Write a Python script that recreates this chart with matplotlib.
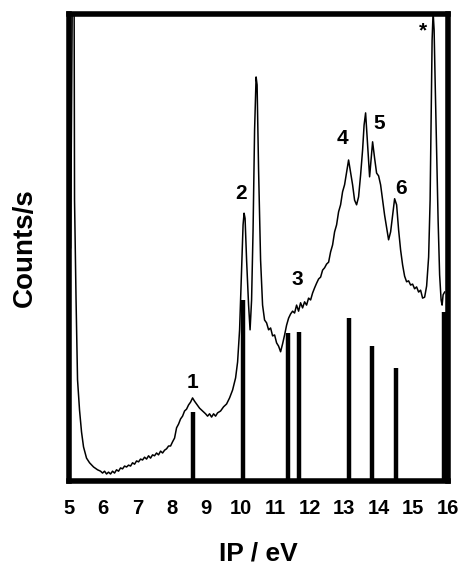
import matplotlib
matplotlib.use("Agg")
import matplotlib.pyplot as plt

plt.rcParams['font.family'] = ['Liberation Sans', 'DejaVu Sans']

# Spectrum (IP in eV, counts in arbitrary units, 0-100 = full axis height)
ip_ev = [5.06, 5.11, 5.14, 5.16, 5.174, 5.218, 5.261, 5.319, 5.377, 5.435, 5.522, 5.61, 5.726, 5.842,
         5.929, 5.987, 6.045, 6.103, 6.161, 6.219, 6.277, 6.335, 6.393, 6.451, 6.509, 6.567, 6.626,
         6.684, 6.742, 6.80, 6.858, 6.916, 6.974, 7.032, 7.09, 7.148, 7.206, 7.264, 7.322, 7.38,
         7.438, 7.496, 7.554, 7.612, 7.671, 7.729, 7.787, 7.845, 7.903, 7.961, 8.019, 8.077, 8.135,
         8.193, 8.251, 8.309, 8.367, 8.425, 8.483, 8.541, 8.599, 8.657, 8.716, 8.803, 8.89, 8.977,
         9.035, 9.093, 9.151, 9.209, 9.267, 9.325, 9.412, 9.499, 9.586, 9.673, 9.761, 9.848, 9.906,
         9.964, 10.022, 10.065, 10.094, 10.123, 10.167, 10.225, 10.268, 10.312, 10.355, 10.399,
         10.443, 10.472, 10.515, 10.573, 10.631, 10.689, 10.747, 10.806, 10.864, 10.922, 10.98,
         11.038, 11.096, 11.154, 11.212, 11.27, 11.328, 11.386, 11.444, 11.502, 11.56, 11.618,
         11.676, 11.734, 11.792, 11.85, 11.908, 11.966, 12.025, 12.083, 12.141, 12.199, 12.257,
         12.315, 12.373, 12.431, 12.489, 12.547, 12.605, 12.663, 12.721, 12.779, 12.837, 12.895,
         12.953, 13.011, 13.069, 13.127, 13.185, 13.243, 13.301, 13.359, 13.417, 13.476, 13.534,
         13.577, 13.621, 13.679, 13.737, 13.78, 13.824, 13.882, 13.94, 13.998, 14.056, 14.114,
         14.172, 14.23, 14.288, 14.347, 14.405, 14.463, 14.521, 14.579, 14.637, 14.695, 14.753,
         14.811, 14.869, 14.927, 14.985, 15.043, 15.101, 15.159, 15.217, 15.275, 15.334, 15.392,
         15.45, 15.493, 15.522, 15.551, 15.58, 15.609, 15.638, 15.682, 15.725, 15.769, 15.812,
         15.841, 15.87, 15.914]
counts = [50.0, 105.0, 130.0, 110.0, 60.2, 38.8, 21.7, 15.2, 10.5, 7.3, 4.9, 3.9, 3.0, 2.4,
          2.1, 1.7, 2.1, 1.5, 1.9, 1.5, 2.1, 1.7, 2.4, 2.1, 2.8, 2.6, 3.2,
          3.0, 3.4, 3.2, 3.9, 3.6, 4.3, 4.1, 4.7, 4.5, 5.1, 4.7, 5.4, 4.9,
          5.6, 5.4, 6.0, 5.6, 6.4, 6.0, 6.6, 6.9, 7.5, 7.5, 8.4, 9.2, 11.4,
          12.2, 13.3, 13.9, 15.0, 15.4, 16.3, 16.9, 17.8, 17.1, 16.5, 15.6, 15.0, 14.4,
          13.9, 14.4, 13.7, 14.4, 13.9, 14.6, 15.0, 15.9, 16.5, 17.8, 19.5, 22.1, 25.5,
          32.4, 45.2, 54.9, 57.4, 56.3, 47.4, 37.7, 32.4, 38.8, 53.8, 75.2,
          86.6, 84.9, 66.7, 47.4, 37.7, 34.5, 33.9, 32.4, 32.8, 31.1, 31.3,
          29.6, 28.9, 27.7, 29.4, 31.3, 33.4, 34.9, 35.8, 36.4, 36.0, 37.7,
          36.4, 38.2, 37.1, 38.4, 37.7, 39.2, 38.8, 40.3, 41.4, 42.4, 43.3,
          43.7, 45.2, 45.7, 46.5, 46.9, 49.1, 50.6, 53.4, 54.9, 57.7, 59.2,
          62.0, 63.5, 66.2, 68.8, 66.2, 63.5, 60.2, 59.2, 60.9, 65.6, 71.0,
          76.3, 78.9, 72.0, 65.2, 68.8, 72.7, 69.2, 66.0, 65.4, 63.5, 60.2,
          57.0, 54.4, 51.7, 53.4, 57.0, 60.5, 59.2, 53.8, 49.5, 46.3, 43.9,
          42.7, 42.9, 42.0, 42.2, 41.2, 41.6, 40.5, 40.9, 39.2, 39.4, 41.8,
          48.0, 60.2, 77.4, 94.5, 100.5, 96.7, 86.0, 71.0, 55.9, 44.2, 38.8,
          37.7, 39.9, 40.5]

# Calculated ionisation energies (sticks)
stick_ip = [8.61, 10.05, 11.37, 11.68, 13.13, 13.82, 14.49, 15.91]
stick_height = [14.8, 38.8, 31.7, 31.9, 34.9, 28.9, 24.2, 36.2]

# Band labels
label_text = ['1', '2', '3', '4', '5', '6', '*']
label_ip = [8.59, 10.02, 11.63, 12.95, 14.02, 14.64, 15.28]
label_y = [21.2, 61.7, 43.1, 73.5, 76.7, 62.8, 96.5]

x_ticks = [5, 6, 7, 8, 9, 10, 11, 12, 13, 14, 15, 16]

fig = plt.figure(figsize=(4.6, 5.67), dpi=100)
ax = fig.add_axes([0.149, 0.1517, 0.824, 0.8228])

ax.vlines(stick_ip, 0, stick_height, colors='black', linewidth=3.2, zorder=2)
ax.plot(ip_ev, counts, color='black', linewidth=1.1, zorder=3)

for t, xv, yv in zip(label_text, label_ip, label_y):
    ax.text(xv, yv, t, ha='center', va='center', fontsize=15, fontweight='bold')

ax.set_xlim(5, 16)
ax.set_ylim(0, 100)
ax.set_xticks(x_ticks)
ax.set_xticklabels([str(t) for t in x_ticks], fontsize=14.5, fontweight='bold')
ax.set_yticks([])
ax.tick_params(axis='x', length=0, pad=13)
for s in ax.spines.values():
    s.set_linewidth(4.0)
    s.set_zorder(5)

ax.set_xlabel('IP / eV', fontsize=19, fontweight='bold', labelpad=17)
ax.set_ylabel('Counts/s', fontsize=20, fontweight='bold', labelpad=22)

fig.savefig('out.png', dpi=100)
